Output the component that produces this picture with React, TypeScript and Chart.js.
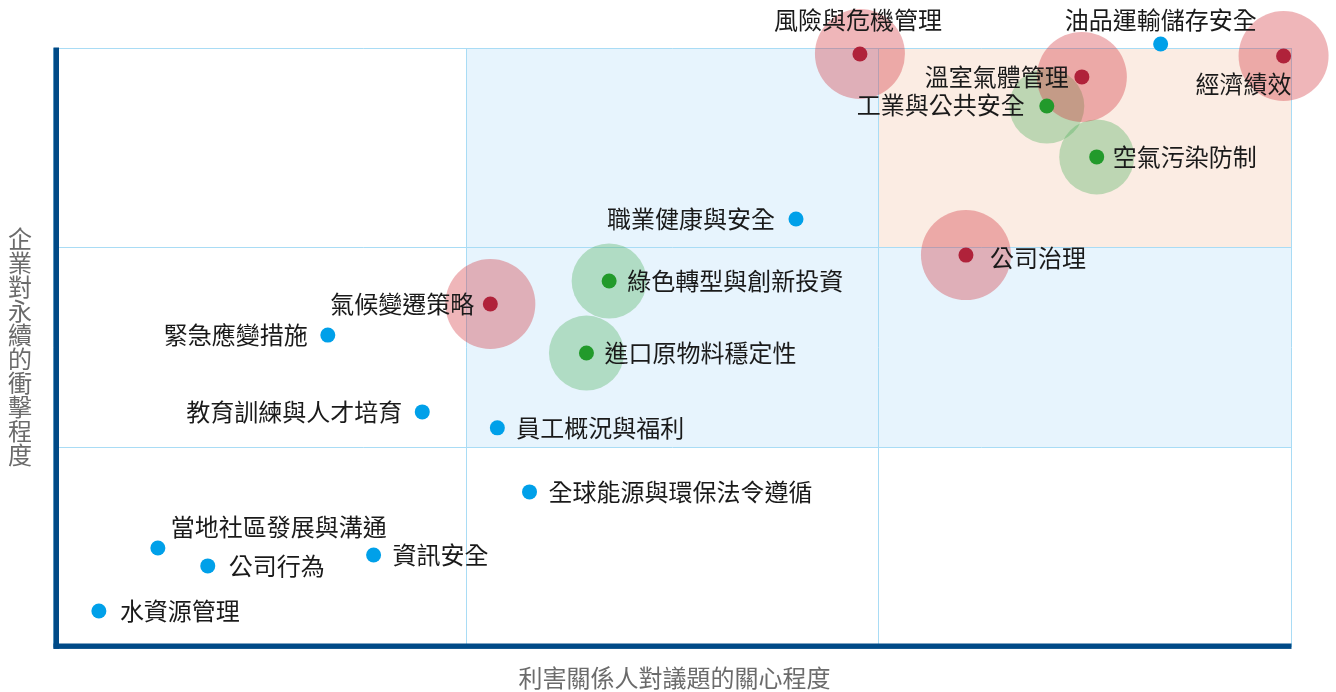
import React, { useEffect, useRef } from 'react';
import { Chart, registerables } from 'chart.js';

Chart.register(...registerables);

// ---- data ----
const redTopics = ['風險與危機管理', '溫室氣體管理', '經濟績效', '公司治理', '氣候變遷策略'];
const redX = [1.955, 2.493, 2.982, 2.212, 1.059];
const redY = [2.97, 2.855, 2.96, 1.962, 1.717];

const greenTopics = ['工業與公共安全', '空氣污染防制', '綠色轉型與創新投資', '進口原物料穩定性'];
const greenX = [2.408, 2.529, 1.347, 1.292];
const greenY = [2.709, 2.454, 1.832, 1.471];

const blueTopics = [
  '油品運輸儲存安全', '職業健康與安全', '緊急應變措施', '教育訓練與人才培育', '員工概況與福利',
  '全球能源與環保法令遵循', '當地社區發展與溝通', '公司行為', '資訊安全', '水資源管理',
];
const blueX = [2.684, 1.8, 0.665, 0.894, 1.076, 1.154, 0.253, 0.374, 0.776, 0.11];
const blueY = [3.02, 2.143, 1.561, 1.176, 1.096, 0.775, 0.494, 0.404, 0.459, 0.178];

const axisTicks = [0, 1, 2, 3];
const xTitle = '利害關係人對議題的關心程度';
const yTitle = '企業對永續的衝擊程度';

// zones in data units: [x0, x1, y0, y1]
const blueZones = [[1, 2, 1, 3], [2, 3, 1, 2]];
const orangeZones = [[2, 3, 2, 3]];

// ---- styles ----
const FONT = '"Noto Sans CJK TC", "Noto Sans", sans-serif';
const AXIS_COLOR = '#004a87';
const labelPlacement: Record<string, [CanvasTextAlign, number, number]> = {
  '風險與危機管理': ['center', -2, -34],
  '油品運輸儲存安全': ['center', 0, -24],
  '溫室氣體管理': ['right', -13, 0],
  '工業與公共安全': ['right', -22, -1],
  '經濟績效': ['right', 8, 28],
  '空氣污染防制': ['left', 16, 0],
  '職業健康與安全': ['right', -21, 0],
  '公司治理': ['left', 24, 3],
  '氣候變遷策略': ['right', -16, 0],
  '綠色轉型與創新投資': ['left', 18, 0],
  '緊急應變措施': ['right', -20, 0],
  '進口原物料穩定性': ['left', 18, 0],
  '教育訓練與人才培育': ['right', -20, 0],
  '員工概況與福利': ['left', 19, 0],
  '全球能源與環保法令遵循': ['left', 19, 0],
  '當地社區發展與溝通': ['left', 13, -21],
  '公司行為': ['left', 21, 0],
  '資訊安全': ['left', 19, 0],
  '水資源管理': ['left', 21, 0],
};

const toPts = (xs: number[], ys: number[]) => xs.map((x, i) => ({ x, y: ys[i] }));

const zonesPlugin = {
  id: 'zones',
  beforeDraw(chart: any) {
    const { ctx, scales } = chart;
    const xs = scales.x, ys = scales.y;
    const fill = (zones: number[][], color: string) => {
      ctx.save();
      ctx.fillStyle = color;
      zones.forEach(([x0, x1, y0, y1]) => {
        const l = xs.getPixelForValue(x0), r = xs.getPixelForValue(x1);
        const t = ys.getPixelForValue(y1), b = ys.getPixelForValue(y0);
        ctx.fillRect(l, t, r - l, b - t);
      });
      ctx.restore();
    };
    fill(blueZones, '#e7f4fd');
    fill(orangeZones, '#fbece3');
  },
};

const axesPlugin = {
  id: 'axesLines',
  beforeDatasetsDraw(chart: any) {
    const { ctx, chartArea } = chart;
    const { left, right, top, bottom } = chartArea;
    ctx.save();
    ctx.fillStyle = AXIS_COLOR;
    ctx.fillRect(left, top - 0.5, 5.5, bottom + 2.2 - (top - 0.5));
    ctx.fillRect(left, bottom - 3, right - left + 0.5, 5.4);
    ctx.restore();
  },
};

const labelsPlugin = {
  id: 'labels',
  afterDatasetsDraw(chart: any) {
    const { ctx, scales } = chart;
    ctx.save();
    ctx.font = `24px ${FONT}`;
    ctx.fillStyle = '#1a1a1a';
    ctx.textBaseline = 'middle';
    const draw = (names: string[], xs: number[], ys: number[]) => {
      names.forEach((n, i) => {
        const [align, dx, dy] = labelPlacement[n] || ['left', 20, 0];
        ctx.textAlign = align;
        ctx.fillText(n, scales.x.getPixelForValue(xs[i]) + dx, scales.y.getPixelForValue(ys[i]) + dy);
      });
    };
    draw(redTopics, redX, redY);
    draw(greenTopics, greenX, greenY);
    draw(blueTopics, blueX, blueY);
    ctx.restore();
  },
  afterDraw(chart: any) {
    const { ctx, chartArea } = chart;
    ctx.save();
    ctx.font = `24px ${FONT}`;
    ctx.fillStyle = '#6b6b6b';
    ctx.textAlign = 'center';
    ctx.textBaseline = 'middle';
    ctx.fillText(xTitle, 674.5, 678);
    const chars = Array.from(yTitle);
    const midY = (chartArea.top + chartArea.bottom) / 2;
    const step = 24;
    chars.forEach((c, i) => {
      ctx.fillText(c, 20, midY + (i - (chars.length - 1) / 2) * step);
    });
    ctx.restore();
  },
};

export default function App() {
  const ref = useRef<HTMLCanvasElement | null>(null);
  useEffect(() => {
    if (!ref.current) return;
    const gridOpts = { color: '#a9dcf5', lineWidth: 1, drawTicks: false, tickLength: 0 };
    const chart = new Chart(ref.current, {
      type: 'scatter',
      data: {
        datasets: [
          { data: toPts(blueX, blueY), pointRadius: 7.5, backgroundColor: '#00a0e9', borderWidth: 0, order: 0, clip: false } as any,
          { data: toPts(redX, redY), pointRadius: 7.5, backgroundColor: '#b0223a', borderWidth: 0, order: 0, clip: false } as any,
          { data: toPts(greenX, greenY), pointRadius: 7.5, backgroundColor: '#229a2b', borderWidth: 0, order: 0, clip: false } as any,
          { data: toPts(redX, redY), pointRadius: 45, backgroundColor: 'rgba(209,46,55,0.35)', borderWidth: 0, order: 1, clip: false } as any,
          { data: toPts(greenX, greenY), pointRadius: 37.5, backgroundColor: 'rgba(74,175,90,0.35)', borderWidth: 0, order: 1, clip: false } as any,
        ],
      },
      options: {
        animation: false,
        responsive: false,
        events: [],
        layout: { padding: { left: 53.5, right: 43.5, top: 48, bottom: 45.5 } },
        plugins: { legend: { display: false }, tooltip: { enabled: false } },
        scales: {
          x: {
            type: 'linear',
            min: axisTicks[0],
            max: axisTicks[axisTicks.length - 1],
            afterBuildTicks: (s: any) => { s.ticks = axisTicks.map((v) => ({ value: v })); },
            ticks: { display: false },
            grid: gridOpts,
            border: { display: false },
          },
          y: {
            type: 'linear',
            min: axisTicks[0],
            max: axisTicks[axisTicks.length - 1],
            afterBuildTicks: (s: any) => { s.ticks = axisTicks.map((v) => ({ value: v })); },
            ticks: { display: false },
            grid: gridOpts,
            border: { display: false },
          },
        },
      } as any,
      plugins: [zonesPlugin, axesPlugin, labelsPlugin],
    });
    return () => chart.destroy();
  }, []);
  return (
    <div style={{ position: 'fixed', left: 0, top: 0, width: 1336, height: 692, background: '#fff' }}>
      <canvas ref={ref} width={1336} height={692} style={{ display: 'block', width: 1336, height: 692 }} />
    </div>
  );
}
